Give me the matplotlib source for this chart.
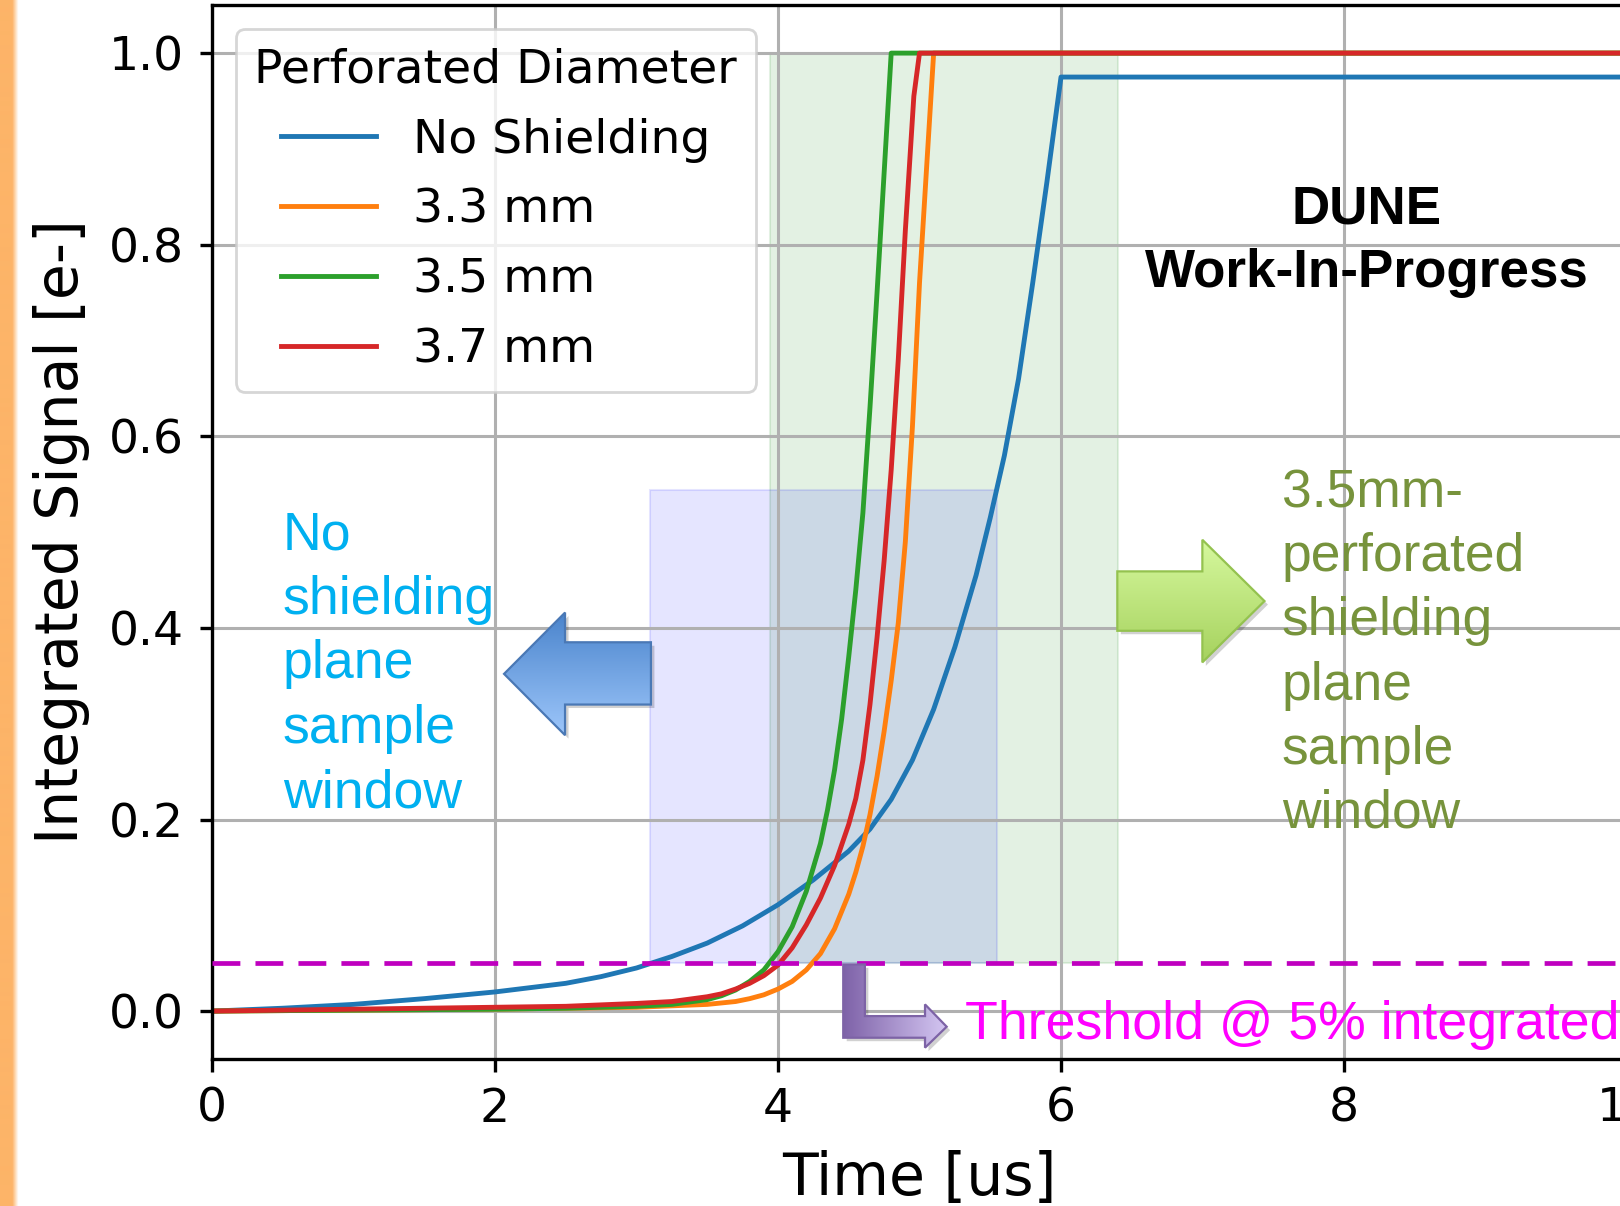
import numpy as np
import matplotlib
matplotlib.use("Agg")
import matplotlib.pyplot as plt
from matplotlib.patches import Polygon, Rectangle
from matplotlib.colors import LinearSegmentedColormap
from matplotlib.transforms import ScaledTranslation

# ---------------- data ----------------
t_noshield = [0, 0.5, 1.0, 1.5, 2.0, 2.5, 2.75, 3.0, 3.25, 3.5, 3.75, 4.0, 4.25,
              4.5, 4.65, 4.8, 4.95, 5.1, 5.25, 5.4, 5.5, 5.6, 5.7, 5.8, 5.9, 6.0, 10.5]
s_noshield = [0, 0.003, 0.007, 0.013, 0.020, 0.029, 0.036, 0.045, 0.057, 0.071,
              0.089, 0.111, 0.137, 0.167, 0.190, 0.221, 0.262, 0.315, 0.380, 0.455,
              0.515, 0.580, 0.660, 0.760, 0.865, 0.975, 0.975]

t_33 = [0, 1.0, 2.0, 3.0, 3.5, 3.7, 3.8, 3.9, 4.0, 4.1, 4.2, 4.3, 4.4, 4.5, 4.55,
        4.6, 4.65, 4.7, 4.75, 4.8, 4.85, 4.9, 4.95, 5.0, 5.05, 5.10, 10.5]
s_33 = [0, 0.001, 0.002, 0.004, 0.007, 0.010, 0.013, 0.017, 0.023, 0.031, 0.043,
        0.060, 0.086, 0.122, 0.145, 0.172, 0.205, 0.245, 0.292, 0.345, 0.405, 0.49,
        0.61, 0.76, 0.88, 1.0, 1.0]

t_35 = [0, 1.0, 2.0, 2.5, 3.0, 3.25, 3.5, 3.6, 3.7, 3.8, 3.9, 4.0, 4.1, 4.2, 4.3,
        4.35, 4.4, 4.45, 4.5, 4.55, 4.6, 4.65, 4.7, 4.75, 4.80, 10.5]
s_35 = [0, 0.001, 0.002, 0.003, 0.005, 0.007, 0.012, 0.016, 0.022, 0.031, 0.043,
        0.062, 0.088, 0.125, 0.175, 0.210, 0.252, 0.305, 0.37, 0.44, 0.52, 0.63,
        0.75, 0.875, 1.0, 1.0]

t_37 = [0, 1.0, 2.0, 2.5, 3.0, 3.25, 3.5, 3.6, 3.7, 3.8, 3.9, 4.0, 4.1, 4.2, 4.3,
        4.4, 4.5, 4.55, 4.6, 4.65, 4.7, 4.75, 4.8, 4.85, 4.9, 4.96, 5.0, 10.5]
s_37 = [0, 0.002, 0.004, 0.005, 0.008, 0.010, 0.015, 0.018, 0.023, 0.029, 0.037,
        0.048, 0.066, 0.090, 0.118, 0.152, 0.195, 0.222, 0.262, 0.320, 0.390, 0.470,
        0.565, 0.680, 0.815, 0.955, 1.0, 1.0]

series_labels = ["No Shielding", "3.3 mm", "3.5 mm", "3.7 mm"]
series_colors = ["#1f77b4", "#ff7f0e", "#2ca02c", "#d62728"]

threshold = 0.05
window_noshield = [3.095, 5.55, 0.544]   # t start, t end, top of shaded box
window_35mm = [3.94, 6.40, 1.0]

x_ticks = [0, 2, 4, 6, 8, 10]
y_ticks = [0.0, 0.2, 0.4, 0.6, 0.8, 1.0]

# ---------------- figure ----------------
W, H = 1620, 1206
fig = plt.figure(figsize=(W / 100, H / 100), dpi=100)
ax = fig.add_axes([212 / W, 147 / H, 1415 / W, 1053.8 / H])

# orange strip at the far left (slide edge)
sax = fig.add_axes([0, 0, 20 / W, 1])
strip_cmap = LinearSegmentedColormap.from_list(
    "strip", [(0, "#FDB468"), (0.62, "#FDB468"), (0.92, "#FFFFFF"), (1, "#FFFFFF")])
sax.imshow(np.linspace(0, 1, 200)[None, :], cmap=strip_cmap, aspect="auto",
           extent=(0, 1, 0, 1))
sax.axis("off")

# shaded sample windows
ax.add_patch(Rectangle((window_35mm[0], threshold), window_35mm[1] - window_35mm[0],
                       window_35mm[2] - threshold, facecolor="green", edgecolor="green",
                       alpha=0.11, lw=1.5, zorder=1))
ax.add_patch(Rectangle((window_noshield[0], threshold), window_noshield[1] - window_noshield[0],
                       window_noshield[2] - threshold, facecolor="blue", edgecolor="blue",
                       alpha=0.10, lw=1.5, zorder=1))

# curves
for t, s, lab, c in zip([t_noshield, t_33, t_35, t_37],
                        [s_noshield, s_33, s_35, s_37],
                        series_labels, series_colors):
    ax.plot(t, s, color=c, lw=3.5, label=lab)

ax.axhline(threshold, color="#BF00BF", lw=3.4, linestyle=(0, (5.9, 3.2)), zorder=3)

ax.set_xlim(0, 10)
ax.set_ylim(-0.05, 1.05)
ax.set_xticks(x_ticks)
ax.set_yticks(y_ticks)
ax.set_xticklabels([str(v) for v in x_ticks])
ax.set_yticklabels(["%.1f" % v for v in y_ticks])
ax.tick_params(labelsize=34, length=9, width=2.4, pad=11)
for sp in ax.spines.values():
    sp.set_linewidth(2.4)
ax.grid(True, color="#b0b0b0", lw=2.2)

ax.set_xlabel("Time [us]", fontsize=42)
ax.set_ylabel("Integrated Signal [e-]", fontsize=42)
ax.xaxis.set_label_coords(0.5, -0.0864)
ax.yaxis.set_label_coords(-0.0862, 0.5)

leg = ax.legend(title="Perforated Diameter", loc="upper left", fontsize=34,
                title_fontsize=34, framealpha=0.8, edgecolor="0.8", labelspacing=0.53)
leg.get_frame().set_linewidth(2)

# ---------------- slide annotations ----------------
def gradient_arrow(verts, c1, c2, edge, horizontal=False):
    shadow = Polygon(verts, closed=True, facecolor="black", edgecolor="none", alpha=0.18,
                     zorder=4, transform=ax.transData + ScaledTranslation(2.5 / 72, -2.5 / 72,
                                                                          fig.dpi_scale_trans))
    ax.add_patch(shadow)
    poly = Polygon(verts, closed=True, facecolor="none", edgecolor=edge, lw=1.6, zorder=6)
    ax.add_patch(poly)
    xs = [v[0] for v in verts]
    ys = [v[1] for v in verts]
    g = np.linspace(0, 1, 256)
    img = g[None, :] if horizontal else g[:, None]
    cm = LinearSegmentedColormap.from_list("g", [c1, c2])
    im = ax.imshow(img, extent=(min(xs), max(xs), min(ys), max(ys)), origin="upper",
                   cmap=cm, aspect="auto", zorder=5, interpolation="bilinear")
    im.set_clip_path(poly)

blue_arrow = [(2.064, 0.352), (2.495, 0.416), (2.495, 0.385), (3.102, 0.385),
              (3.102, 0.320), (2.495, 0.320), (2.495, 0.288)]
green_arrow = [(6.398, 0.459), (6.999, 0.459), (6.999, 0.492), (7.438, 0.428),
               (6.999, 0.364), (6.999, 0.397), (6.398, 0.397)]
purple_arrow = [(4.461, 0.0487), (4.614, 0.0487), (4.614, -0.0052), (5.039, -0.0052),
                (5.039, 0.0070), (5.192, -0.0163), (5.039, -0.0382), (5.039, -0.0278),
                (4.461, -0.0278)]
gradient_arrow(blue_arrow, "#4A84CC", "#9DC6FA", "#4A78B5")
gradient_arrow(green_arrow, "#D6F89E", "#A6D25E", "#94C24F")
gradient_arrow(purple_arrow, "#7E62A8", "#D4C6F2", "#7D63A6", horizontal=True)

ax.set_xlim(0, 10)
ax.set_ylim(-0.05, 1.05)

sans = ["Liberation Sans", "DejaVu Sans"]
ax.text(0.50, 0.5225, "No\nshielding\nplane\nsample\nwindow", color="#00B0F0",
        fontsize=38.6, family=sans, va="top", ha="left", linespacing=1.37)
ax.text(7.56, 0.5665, "3.5mm-\nperforated\nshielding\nplane\nsample\nwindow",
        color="#77933C", fontsize=38.4, family=sans, va="top", ha="left", linespacing=1.36)
ax.text(8.159, 0.8625, "DUNE\nWork-In-Progress", color="black", fontsize=38.2,
        fontweight="bold", family=sans, va="top", ha="center", multialignment="center",
        linespacing=1.33)
ax.text(5.32, -0.0288, "Threshold @ 5% integrated", color="#FF00FF", fontsize=38.6,
        family=sans, va="baseline", ha="left")

fig.savefig("out.png", dpi=100)
